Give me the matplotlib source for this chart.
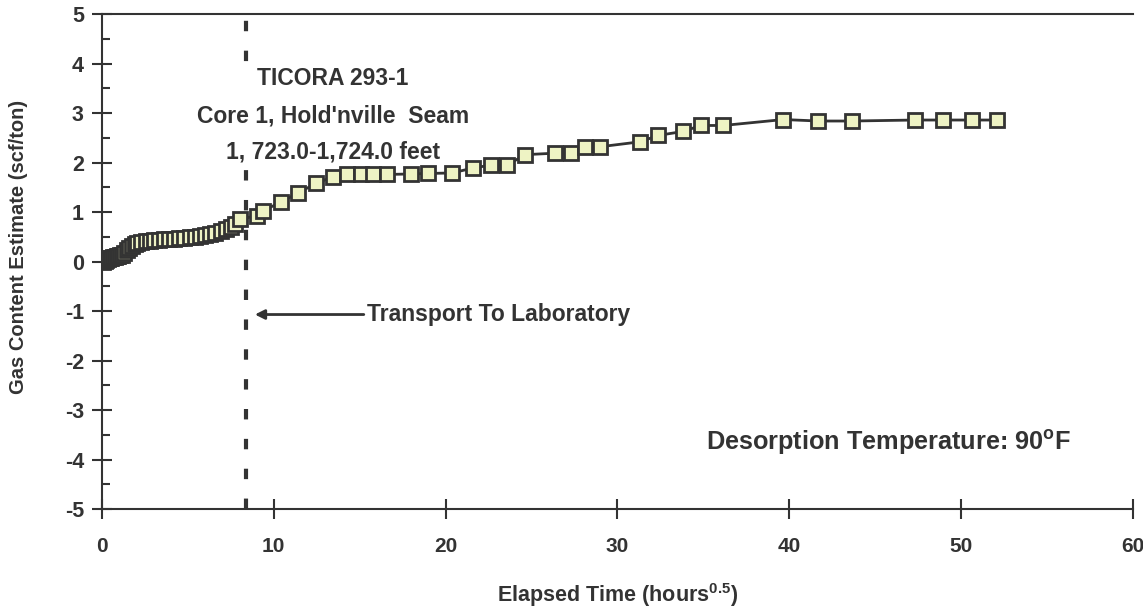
import matplotlib
matplotlib.use("Agg")
import matplotlib.pyplot as plt
from matplotlib.ticker import MultipleLocator

plt.rcParams['font.family'] = ['Liberation Sans', 'DejaVu Sans']
plt.rcParams['font.weight'] = 'bold'
plt.rcParams['axes.labelweight'] = 'bold'
plt.rcParams['axes.unicode_minus'] = False
plt.rcParams['mathtext.fontset'] = 'custom'
plt.rcParams['mathtext.rm'] = 'Liberation Sans:bold'
plt.rcParams['mathtext.it'] = 'Liberation Sans:bold'
plt.rcParams['mathtext.bf'] = 'Liberation Sans:bold'
plt.rcParams['mathtext.default'] = 'rm'
plt.rcParams['lines.scale_dashes'] = False

ink = '#333333'

# elapsed time (sqrt hours) and cumulative gas content (scf/ton)
elapsed = [0.05, 0.15, 0.25, 0.35, 0.45, 0.55, 0.65, 0.75, 0.85, 0.95,
           1.05, 1.15, 1.3, 1.45, 1.6, 1.75, 1.9, 2.05, 2.3, 2.55,
           2.8, 3.05, 3.3, 3.6, 3.9, 4.2, 4.5, 4.8, 5.1, 5.4,
           5.7, 6.0, 6.3, 6.6, 6.9, 7.2, 7.5, 7.75, 8.03,
           9.0, 9.35, 10.4, 11.43, 12.46, 13.43, 14.28, 15.1, 15.75, 16.57,
           17.99, 18.95, 20.35, 21.61, 22.63, 23.59, 24.62, 26.37, 27.28, 28.11,
           28.99, 31.32, 32.38, 33.84, 34.85, 36.16, 39.66, 41.69, 43.64, 47.32,
           48.97, 50.62, 52.08]
gas = [0.0, 0.02, 0.04, 0.06, 0.07, 0.08, 0.09, 0.10, 0.11, 0.12,
       0.13, 0.14, 0.18, 0.23, 0.28, 0.32, 0.36, 0.38, 0.40, 0.41,
       0.42, 0.43, 0.44, 0.45, 0.46, 0.46, 0.47, 0.48, 0.49, 0.50,
       0.52, 0.54, 0.56, 0.58, 0.61, 0.65, 0.70, 0.75, 0.85,
       0.93, 1.02, 1.20, 1.39, 1.58, 1.71, 1.76, 1.76, 1.76, 1.76,
       1.77, 1.78, 1.79, 1.89, 1.95, 1.95, 2.16, 2.19, 2.19, 2.32,
       2.32, 2.42, 2.55, 2.63, 2.75, 2.75, 2.87, 2.84, 2.84, 2.86,
       2.86, 2.86, 2.86]

transport_time = 8.38

fig = plt.figure(figsize=(11.43, 6.14), dpi=100)
ax = fig.add_axes([0.0892, 0.171, 0.902, 0.806])

ax.axvline(transport_time, color=ink, lw=3.0, dashes=(7.5, 14), zorder=1)
ax.plot(elapsed, gas, color=ink, lw=2.0, marker='s', markersize=10.5,
        markerfacecolor='#eef3c4', markeredgecolor=ink, markeredgewidth=2.0,
        zorder=3)

ax.set_xlim(0, 60)
ax.set_ylim(-5, 5)
ax.xaxis.set_major_locator(MultipleLocator(10))
ax.yaxis.set_major_locator(MultipleLocator(1))
ax.yaxis.set_minor_locator(MultipleLocator(0.5))
ax.tick_params(axis='both', which='major', direction='inout', length=14,
               width=1.5, color=ink, labelsize=15.5, labelcolor=ink, pad=6)
ax.tick_params(axis='y', which='minor', direction='in', length=6,
               width=1.5, color=ink)
ax.tick_params(axis='x', pad=13, labelsize=15)
for lbl in ax.get_xticklabels() + ax.get_yticklabels():
    lbl.set_fontweight('bold')
for s in ['left', 'bottom', 'top']:
    ax.spines[s].set_color(ink)
    ax.spines[s].set_linewidth(1.5)
ax.spines['right'].set_visible(False)

ax.set_xlabel('Elapsed Time (hours$^{0.5}$)', fontsize=15.5, fontweight='bold',
              color=ink, labelpad=18)
ax.set_ylabel('Gas Content Estimate (scf/ton)', fontsize=14.5, fontweight='bold',
              color=ink)
ax.yaxis.set_label_coords(-0.072, 0.53)

ax.text(13.45, 2.95, "TICORA 293-1\nCore 1, Hold'nville  Seam\n1, 723.0-1,724.0 feet",
        ha='center', va='center', fontsize=16.5, color=ink, linespacing=1.76,
        bbox=dict(facecolor='white', edgecolor='none', pad=4), zorder=2)

ax.annotate('Transport To Laboratory', xy=(8.9, -1.07), xytext=(15.4, -1.07),
            ha='left', va='center', fontsize=16.5, color=ink,
            arrowprops=dict(arrowstyle='-|>', color=ink, lw=2, mutation_scale=14,
                            shrinkA=0, shrinkB=0))

ax.text(56.4, -3.65, 'Desorption Temperature: 90$^{\\mathrm{o}}$F', ha='right',
        va='center', fontsize=18.2, color=ink)

fig.savefig('out.png', dpi=100, facecolor='white')
